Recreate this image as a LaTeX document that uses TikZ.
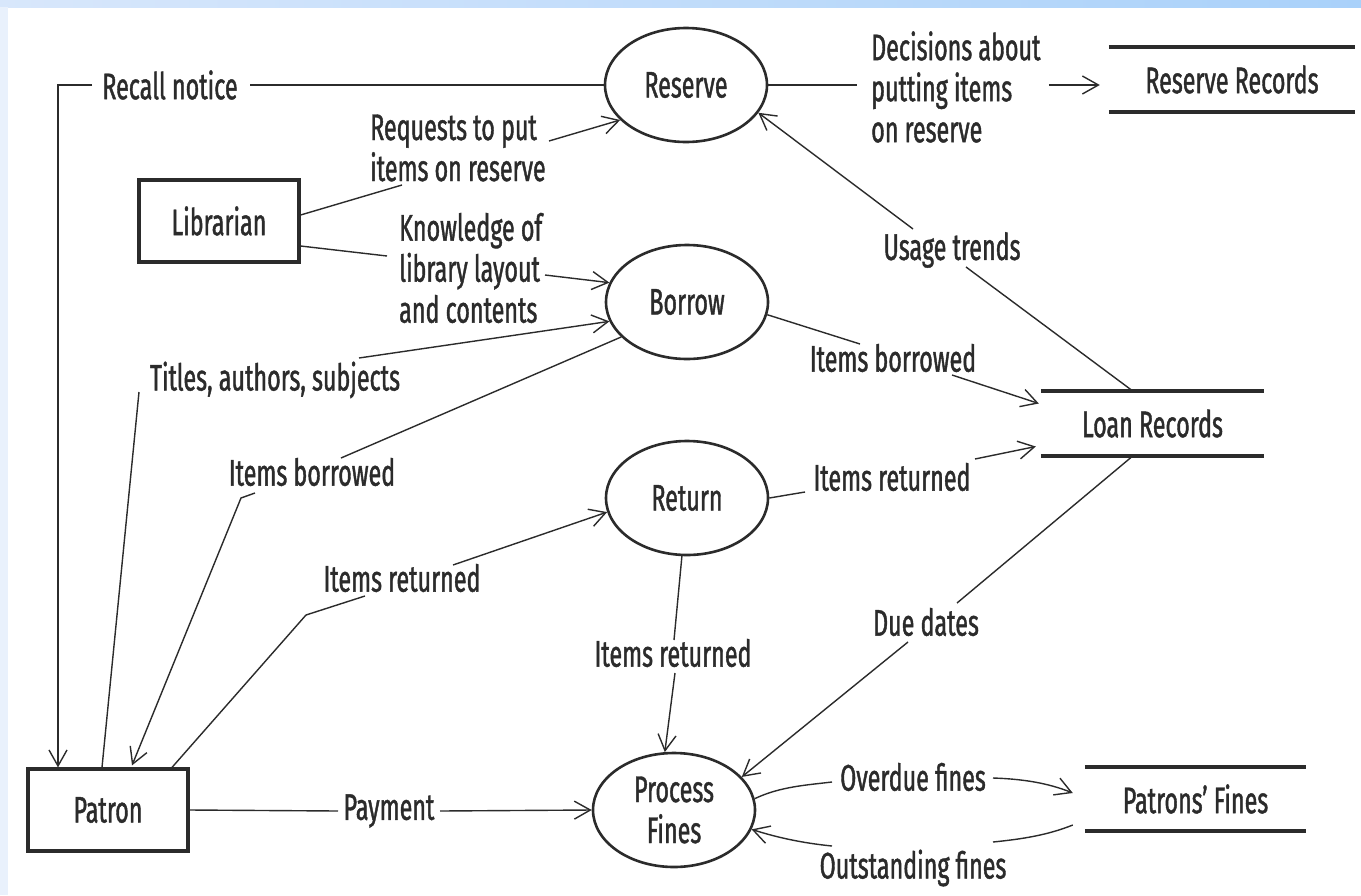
\documentclass[tikz,border=0pt]{standalone}
\usepackage{fontspec}
\setmainfont{Fira Sans}[FakeStretch=0.63,FakeBold=1.1]
\usetikzlibrary{shapes.geometric,arrows.meta,calc}
\definecolor{ink}{HTML}{2B2B2B}
\definecolor{bandL}{HTML}{D8E7FB}
\definecolor{bandR}{HTML}{A9D1FA}
\definecolor{sideband}{HTML}{E9F1FC}

\begin{document}
\begin{tikzpicture}[x=1pt,y=-1pt,
  every node/.style={font=\fontsize{37}{41}\selectfont, text=ink},
  process/.style={ellipse, draw=ink, line width=2.6pt, minimum width=162pt,
    minimum height=114pt, inner sep=0pt, align=center},
  entity/.style={rectangle, draw=ink, line width=3.2pt, minimum width=160pt,
    minimum height=82pt},
  store/.style={minimum height=65pt, inner sep=0pt},
  lbl/.style={inner sep=0pt, align=left},
  flow/.style={draw=ink, line width=1.4pt},
  arr/.style={flow, -{Straight Barb[length=16pt,width=18pt,line width=1.4pt]}},
  storeline/.style={draw=ink, line width=4pt}
]
% page and frame bands
\useasboundingbox (0,0) rectangle (1361,895);
\fill[white] (0,0) rectangle (1361,895);
\shade[left color=bandL, right color=bandR] (0,0) rectangle (1361,7);
\fill[sideband] (0,7) rectangle (8,895);

% processes
\node[process] (reserve) at (686,85)  {Reserve};
\node[process] (borrow)  at (687,302) {Borrow};
\node[process] (return)  at (687,498) {Return};
\node[process] (fines)   at (674,810) {Process\\Fines};

% external entities
\node[entity] (librarian) at (219,221) {Librarian};
\node[entity] (patron)    at (108,810) {Patron};

% data stores
\node[store, minimum width=246pt] (rrec)   at (1232,79.5)   {Reserve Records};
\node[store, minimum width=223pt] (loan)   at (1152.5,423.5) {Loan Records};
\node[store, minimum width=221pt, minimum height=64pt] (pfines) at (1195.5,799) {Patrons' Fines};
\foreach \s in {rrec,loan,pfines}{
  \draw[storeline] (\s.north west) -- (\s.north east);
  \draw[storeline] (\s.south west) -- (\s.south east);
}

% flow labels
\node[lbl] (recall)      at (170,85)   {Recall notice};
\node[lbl, anchor=west] (decisions) at (871,87) {Decisions about\\putting items\\on reserve};
\node[lbl, anchor=west] (requests)  at (370,148) {Requests to put\\items on reserve};
\node[lbl, anchor=west] (knowledge) at (399,268) {Knowledge of\\library layout\\and contents};
\node[lbl] (titles)      at (275,380)  {Titles, authors, subjects};
\node[lbl] (itemsb1)     at (312,472)  {Items borrowed};
\node[lbl] (itemsr1)     at (402,578)  {Items returned};
\node[lbl] (itemsb2)     at (893,358)  {Items borrowed};
\node[lbl] (itemsr2)     at (892,477)  {Items returned};
\node[lbl] (usage)       at (952,250)  {Usage trends};
\node[lbl] (due)         at (926,622)  {Due dates};
\node[lbl] (itemsr3)     at (673,653)  {Items returned};
\node[lbl] (payment)     at (389,811)  {Payment};
\node[lbl] (overdue)     at (913,777)  {Overdue fines};
\node[lbl] (outstanding) at (913,868)  {Outstanding fines};

% Reserve -> Patron: recall notice
\draw[flow] (reserve.west) -- ($(recall.center)+(80,0)$);
\draw[arr] ($(recall.center)+(-78,0)$) -- ++(-34,0) coordinate (rbend)
  -- (rbend |- patron.north);

% Librarian -> Reserve / Borrow
\draw[flow] ($(librarian.east)+(0,-6)$) -- ($(requests.west)+(32,37)$);
\draw[arr] ($(requests.west)+(179,-7)$) -- (reserve.-152);
\draw[flow] ($(librarian.east)+(0,25)$) -- ($(knowledge.west)+(-12,-12)$);
\draw[arr] ($(knowledge.west)+(146,7)$) -- (borrow.166);

% Patron <-> Borrow
\draw[arr] ($(titles.center)+(84,-22)$) -- (borrow.-166);
\draw[flow] ($(titles.center)+(-136,12)$) -- ($(patron.north)+(-6,0)$);
\draw[flow] (borrow.-152) -- ($(itemsb1.center)+(29,-14)$);
\draw[arr] ($(itemsb1.center)+(-57,21)$) -- ++(-14,5) -- ($(patron.north)+(24,-2)$);

% Patron -> Return
\draw[flow] ($(patron.north)+(64,0)$) -- ($(itemsr1.center)+(-96,37)$)
  -- ($(itemsr1.center)+(-37,18)$);
\draw[arr] ($(itemsr1.center)+(51,-13)$) -- (return.-170);

% Reserve -> Reserve Records
\draw[flow] (reserve.east) -- ($(decisions.west)+(-14,-2)$);
\draw[arr] ($(rrec.west)+(-60,5.5)$) -- ($(rrec.west)+(-9,5.5)$);

% Loan Records -> Reserve
\draw[flow] ($(loan.north)+(-20,0)$) -- ($(usage.center)+(14,17)$);
\draw[arr] ($(usage.center)+(-39,-21)$) -- (reserve.-21);

% Borrow / Return -> Loan Records
\draw[flow] (borrow.-9) -- ($(itemsb2.center)+(-33,-14)$);
\draw[arr] ($(itemsb2.center)+(59,17)$) -- ($(loan.west)+(-2,-20)$);
\draw[flow] (return.east) -- ($(itemsr2.center)+(-87,15)$);
\draw[arr] ($(itemsr2.center)+(83,-18)$) -- ($(loan.west)+(-5,23)$);

% Loan Records -> Process Fines
\draw[flow] ($(loan.south)+(-20,0)$) -- ($(due.center)+(31,-19)$);
\draw[arr] ($(due.center)+(-18,20)$) -- (fines.26);

% Return -> Process Fines
\draw[flow] (return.-95) -- ($(itemsr3.center)+(1,-13)$);
\draw[arr] ($(itemsr3.center)+(2,20)$) -- (fines.99);

% Patron -> Process Fines
\draw[flow] (patron.east) -- ($(payment.center)+(-51,0)$);
\draw[arr] ($(payment.center)+(51,0)$) -- (fines.west);

% Process Fines <-> Patrons' Fines
\draw[flow] (fines.8) .. controls +(25,-12) and +(-25,3) .. ($(overdue.center)+(-81,5)$);
\draw[arr] ($(overdue.center)+(80,1)$) .. controls +(30,1) and +(-25,-10)
  .. ($(pfines.west)+(-12,-6)$);
\draw[flow] ($(pfines.west)+(-12,26)$) .. controls +(-25,10) and +(30,-3)
  .. ($(outstanding.center)+(80,-26)$);
\draw[arr] ($(outstanding.center)+(-81,-22)$) .. controls +(-30,-3) and +(25,8) .. (fines.-14);
\end{tikzpicture}
\end{document}
